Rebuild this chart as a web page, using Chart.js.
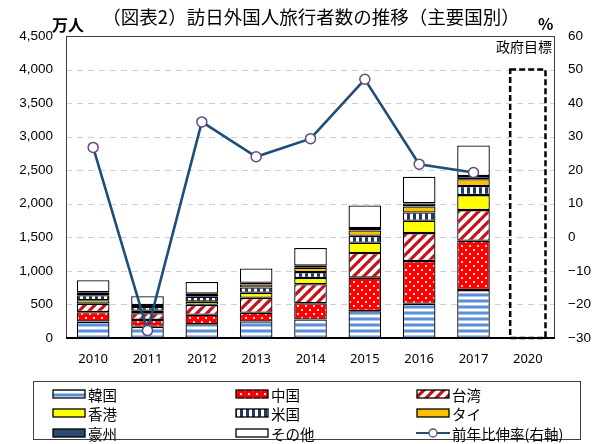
<!DOCTYPE html>
<html>
<head>
<meta charset="utf-8">
<script src="https://cdn.jsdelivr.net/npm/chart.js@4/dist/chart.umd.min.js"></script>
<style>
  body { margin: 0; background: #fff; }
  #wrap { position: relative; width: 596px; height: 444px; }
  #legend { position: absolute; left: 33px; top: 381px; width: 548px; height: 59px; border: 1px solid #404040; box-sizing: border-box; }
  .item { position: absolute; height: 18px; display: flex; align-items: center; font: 14.5px "Noto Sans CJK JP"; color: #000; white-space: nowrap; }
  .item canvas { margin-right: 2px; }
</style>
</head>
<body>
<div id="wrap">
  <canvas id="chart" width="596" height="444"></canvas>
  <div id="legend"></div>
</div>
<script>
// 訪日外国人旅行者数（万人）
const years = ['2010', '2011', '2012', '2013', '2014', '2015', '2016', '2017', '2020'];
const korea  = [244, 166, 204, 246, 276, 400, 509, 714, null];
const china  = [141, 104, 143, 131, 241, 499, 637, 736, null];
const taiwan = [127,  99, 147, 221, 283, 368, 417, 456, null];
const hongkong = [51, 36, 48, 75, 93, 152, 184, 223, null];
const usa    = [73, 57, 72, 80, 89, 103, 124, 137, null];
const thai   = [21, 14, 26, 45, 66, 80, 90, 99, null];
const aus    = [23, 16, 21, 24, 30, 38, 45, 50, null];
const others = [181, 130, 175, 214, 263, 334, 398, 454, null];
const target = [null, null, null, null, null, null, null, null, 4000];
// 前年比伸率（％）
const growth = [26.8, -27.8, 34.4, 24.0, 29.4, 47.1, 21.8, 19.3, null];

const yTicksLeft = [0, 4500, 500];
const yTicksRight = [-30, 60, 10];

function tile(w, h, draw) {
  const c = document.createElement('canvas');
  c.width = w; c.height = h;
  const g = c.getContext('2d');
  draw(g);
  return document.getElementById('chart').getContext('2d').createPattern(c, 'repeat');
}

const patKorea = tile(8, 6, g => {
  g.fillStyle = '#fff'; g.fillRect(0, 0, 8, 6);
  g.fillStyle = '#5b8fd9'; g.fillRect(0, 0, 8, 2);
  g.fillStyle = '#a9c4ec'; g.fillRect(0, 2, 8, 1); g.fillRect(0, 5, 8, 1);
});
const patChina = tile(8, 8, g => {
  g.fillStyle = '#ff0000'; g.fillRect(0, 0, 8, 8);
  g.fillStyle = '#ffe0e0'; g.fillRect(1, 1, 2, 2); g.fillRect(5, 5, 2, 2);
});
const patTaiwan = tile(10, 10, g => {
  g.fillStyle = '#fff'; g.fillRect(0, 0, 10, 10);
  g.strokeStyle = '#c8101a'; g.lineWidth = 3.2;
  [[-5, 5, 5, -5], [0, 10, 10, 0], [5, 15, 15, 5]].forEach(l => {
    g.beginPath(); g.moveTo(l[0], l[1]); g.lineTo(l[2], l[3]); g.stroke();
  });
});
const patUsa = tile(6, 6, g => {
  g.fillStyle = '#1f3864'; g.fillRect(0, 0, 6, 6);
  g.fillStyle = '#fff'; g.fillRect(2, 0, 3, 6);
});

const series = [
  ['韓国', korea, patKorea],
  ['中国', china, patChina],
  ['台湾', taiwan, patTaiwan],
  ['香港', hongkong, '#ffff00'],
  ['米国', usa, patUsa],
  ['タイ', thai, '#ffc000'],
  ['豪州', aus, '#2c4a74'],
  ['その他', others, '#ffffff'],
];

const datasets = series.map(s => ({
  type: 'bar', label: s[0], data: s[1], backgroundColor: s[2],
  borderColor: '#000', borderWidth: 1.3, borderSkipped: false,
  stack: 'a', yAxisID: 'y', order: 2,
  barPercentage: 0.6, categoryPercentage: 1,
}));
datasets.push({
  type: 'bar', label: '政府目標', data: target, backgroundColor: 'transparent',
  borderWidth: 0, stack: 'a', yAxisID: 'y', order: 2,
  barPercentage: 0.65, categoryPercentage: 1,
});
datasets.push({
  type: 'line', label: '前年比伸率(右軸)', data: growth, yAxisID: 'y1', order: 0,
  borderColor: '#1f4e79', borderWidth: 2.6, tension: 0,
  pointRadius: 5, pointBackgroundColor: '#fff', pointBorderColor: '#604a7b', pointBorderWidth: 1.5,
});

const extras = {
  id: 'extras',
  beforeDatasetsDraw(chart) {
    // dashed horizontal grid at the left axis ticks
    const ctx = chart.ctx, a = chart.chartArea, y = chart.scales.y;
    ctx.save();
    ctx.strokeStyle = '#cfcfcf'; ctx.lineWidth = 1; ctx.setLineDash([6, 5]);
    y.ticks.forEach(t => {
      if (t.value <= y.min || t.value >= y.max) return;
      const py = Math.round(y.getPixelForValue(t.value)) + 0.5;
      ctx.beginPath(); ctx.moveTo(a.left, py); ctx.lineTo(a.right, py); ctx.stroke();
    });
    ctx.restore();
  },
  afterDatasetsDraw(chart) {
    const ctx = chart.ctx;
    // dashed box for the 2020 target
    const el = chart.getDatasetMeta(8).data[8];
    ctx.save();
    ctx.strokeStyle = '#000'; ctx.lineWidth = 2.5; ctx.setLineDash([6, 3]);
    ctx.strokeRect(el.x - el.width / 2, el.y, el.width, el.base - el.y);
    ctx.restore();
  },
  afterDraw(chart) {
    const ctx = chart.ctx, a = chart.chartArea;
    ctx.save();
    ctx.strokeStyle = '#404040'; ctx.lineWidth = 1;
    ctx.strokeRect(a.left + 0.5, a.top + 0.5, a.right - a.left - 1, a.bottom - a.top);
    ctx.strokeStyle = '#000'; ctx.lineWidth = 2;
    ctx.beginPath(); ctx.moveTo(a.left, a.bottom); ctx.lineTo(a.right, a.bottom); ctx.stroke();
    ctx.fillStyle = '#000';
    ctx.textBaseline = 'middle';
    ctx.font = '18.5px "Noto Sans CJK JP"';
    ctx.textAlign = 'center';
    ctx.fillText('（図表2）訪日外国人旅行者数の推移（主要国別）', 311, 17);
    ctx.font = 'bold 16px "Noto Sans CJK JP"';
    ctx.textAlign = 'left';
    ctx.fillText('万人', 52, 25);
    ctx.fillText('%', 538, 24);
    ctx.font = '14px "Noto Sans CJK JP"';
    ctx.textAlign = 'right';
    ctx.fillText('政府目標', a.right - 3, 47);
    ctx.restore();
  }
};

new Chart(document.getElementById('chart'), {
  data: { labels: years, datasets: datasets },
  options: {
    responsive: false,
    animation: false,
    layout: { padding: { left: 0, right: 0, top: 36, bottom: 76 } },
    plugins: { legend: { display: false }, tooltip: { enabled: false } },
    scales: {
      x: {
        stacked: true,
        grid: { display: false, drawTicks: false },
        border: { display: false },
        ticks: { color: '#000', padding: 13, font: { family: 'Noto Sans', size: 13 } },
        afterFit: s => { s.height = 30; },
      },
      y: {
        stacked: true, position: 'left',
        min: yTicksLeft[0], max: yTicksLeft[1],
        grid: { display: false, drawTicks: false },
        border: { display: false },
        ticks: {
          stepSize: yTicksLeft[2], color: '#000', padding: 13,
          font: { family: 'Liberation Sans', size: 13.5 },
          callback: v => v.toLocaleString('en-US'),
        },
        afterFit: s => { s.width = 66; },
      },
      y1: {
        position: 'right',
        min: yTicksRight[0], max: yTicksRight[1],
        grid: { display: false, drawTicks: false },
        border: { display: false },
        ticks: {
          stepSize: yTicksRight[2], color: '#000', padding: 13,
          font: { family: 'Liberation Sans', size: 13.5 },
          callback: v => (v < 0 ? '−' + Math.abs(v) : String(v)),
        },
        afterFit: s => { s.width = 41; },
      },
    },
  },
  plugins: [extras],
});

// legend (3 columns, row-major like the original)
const legendItems = series.map(s => ({ label: s[0], fill: s[2] }));
legendItems.push({ label: '前年比伸率(右軸)', line: true });
const colX = [18, 201, 382];
const rowY = [3, 22, 42];
const legend = document.getElementById('legend');
legendItems.forEach((it, i) => {
  const div = document.createElement('div');
  div.className = 'item';
  div.style.left = colX[i % 3] + 'px';
  div.style.top = rowY[Math.floor(i / 3)] + 'px';
  const c = document.createElement('canvas');
  c.width = 34; c.height = 12;
  const g = c.getContext('2d');
  if (it.line) {
    g.strokeStyle = '#1f4e79'; g.lineWidth = 2.2;
    g.beginPath(); g.moveTo(0, 6); g.lineTo(34, 6); g.stroke();
    g.fillStyle = '#fff'; g.strokeStyle = '#604a7b'; g.lineWidth = 1.3;
    g.beginPath(); g.arc(17, 6, 4, 0, Math.PI * 2); g.fill(); g.stroke();
  } else {
    g.fillStyle = it.fill; g.fillRect(1, 2, 32, 8);
    g.strokeStyle = '#000'; g.lineWidth = 1.3; g.strokeRect(1, 2, 32, 8);
  }
  div.appendChild(c);
  const t = document.createElement('span');
  t.textContent = it.label;
  div.appendChild(t);
  legend.appendChild(div);
});
</script>
</body>
</html>
